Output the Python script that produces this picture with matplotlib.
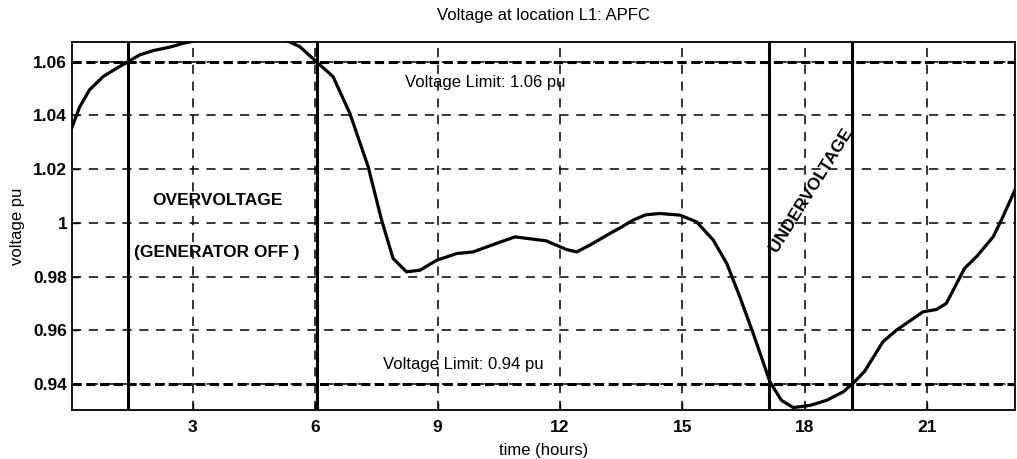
import matplotlib
matplotlib.use('Agg')
import matplotlib.pyplot as plt
import numpy as np

plt.rcParams['font.family'] = ['Liberation Sans', 'DejaVu Sans']

# voltage profile (hours, pu)
hours = [0.03, 0.23, 0.47, 0.8, 1.13, 1.42, 1.7, 2.03, 2.44, 2.76, 3.2, 3.8,
         4.4, 5.0, 5.35, 5.62, 6.03, 6.44, 6.85, 7.3, 7.63, 7.91, 8.24, 8.57,
         8.98, 9.47, 9.87, 10.45, 10.9, 11.67, 12.16, 12.41, 12.73, 13.3,
         13.47, 13.79, 14.1, 14.45, 14.94, 15.35, 15.76, 16.09, 16.41, 16.74,
         17.15, 17.43, 17.72, 18.13, 18.54, 18.94, 19.19, 19.47, 19.92,
         20.25, 20.9, 21.23, 21.47, 21.92, 22.21, 22.62, 22.82, 23.19]
voltage = [1.0352, 1.0432, 1.0495, 1.0544, 1.0575, 1.06, 1.0625, 1.0641,
           1.0654, 1.0668, 1.0682, 1.069, 1.069, 1.0685, 1.0675, 1.0656,
           1.06, 1.0544, 1.0408, 1.0209, 1.001, 0.9868, 0.9818, 0.9824,
           0.9861, 0.9886, 0.9892, 0.9924, 0.9948, 0.9933, 0.9901, 0.9892,
           0.9917, 0.9967, 0.9981, 1.001, 1.003, 1.0035, 1.0029, 1.0004,
           0.9936, 0.9849, 0.9725, 0.9588, 0.9408, 0.934, 0.9313, 0.9321,
           0.934, 0.9371, 0.9404, 0.9448, 0.9558, 0.9601, 0.9669, 0.9678,
           0.97, 0.9831, 0.9874, 0.9948, 1.001, 1.0134]

limits = [1.06, 0.94]
markers = [1.42, 6.05, 17.12, 19.16]
xticks = [3, 6, 9, 12, 15, 18, 21]
yticks = [0.94, 0.96, 0.98, 1.0, 1.02, 1.04, 1.06]
ytick_labels = ['0.94', '0.96', '0.98', '1', '1.02', '1.04', '1.06']

fig = plt.figure(figsize=(10.17, 4.59), dpi=100)
ax = fig.add_axes([0.0708, 0.1068, 0.927, 0.8017])

ax.plot(hours, voltage, color='black', linewidth=2.3, zorder=5)

for lim in limits:
    ax.axhline(lim, color='black', linewidth=2.2, linestyle=(0, (3, 1.5)), zorder=3)
for m in markers:
    ax.axvline(m, color='black', linewidth=2.2, zorder=4)

ax.set_xlim(0.04, 23.15)
ax.set_ylim(0.9304, 1.0673)
ax.set_xticks(xticks)
ax.set_yticks(yticks)
ax.set_yticklabels(ytick_labels)
ax.tick_params(direction='in', length=5, width=1, labelsize=12.5)
ax.tick_params(axis='x', pad=7)
for lab in ax.get_xticklabels() + ax.get_yticklabels():
    lab.set_fontweight('bold')

ax.grid(True, color='black', linestyle=(0, (6, 5)), linewidth=1.1)
for s in ax.spines.values():
    s.set_linewidth(1.3)

ax.set_title('Voltage at location L1: APFC', fontsize=12, pad=16)
ax.set_xlabel('time (hours)', fontsize=12, labelpad=6)
ax.set_ylabel('voltage pu', fontsize=12, labelpad=6)

ax.text(3.6, 1.0085, 'OVERVOLTAGE', fontsize=12.5, fontweight='bold',
        ha='center', va='center')
ax.text(3.6, 0.989, '(GENERATOR OFF )', fontsize=12.5, fontweight='bold',
        ha='center', va='center')
ax.text(8.2, 1.0524, 'Voltage Limit: 1.06 pu', fontsize=12, ha='left', va='center')
ax.text(7.66, 0.9474, 'Voltage Limit: 0.94 pu', fontsize=12, ha='left', va='center')
ax.text(18.15, 1.0122, 'UNDERVOLTAGE', fontsize=12.5, fontweight='bold',
        ha='center', va='center', rotation=58)

fig.savefig('out.png', dpi=100)
